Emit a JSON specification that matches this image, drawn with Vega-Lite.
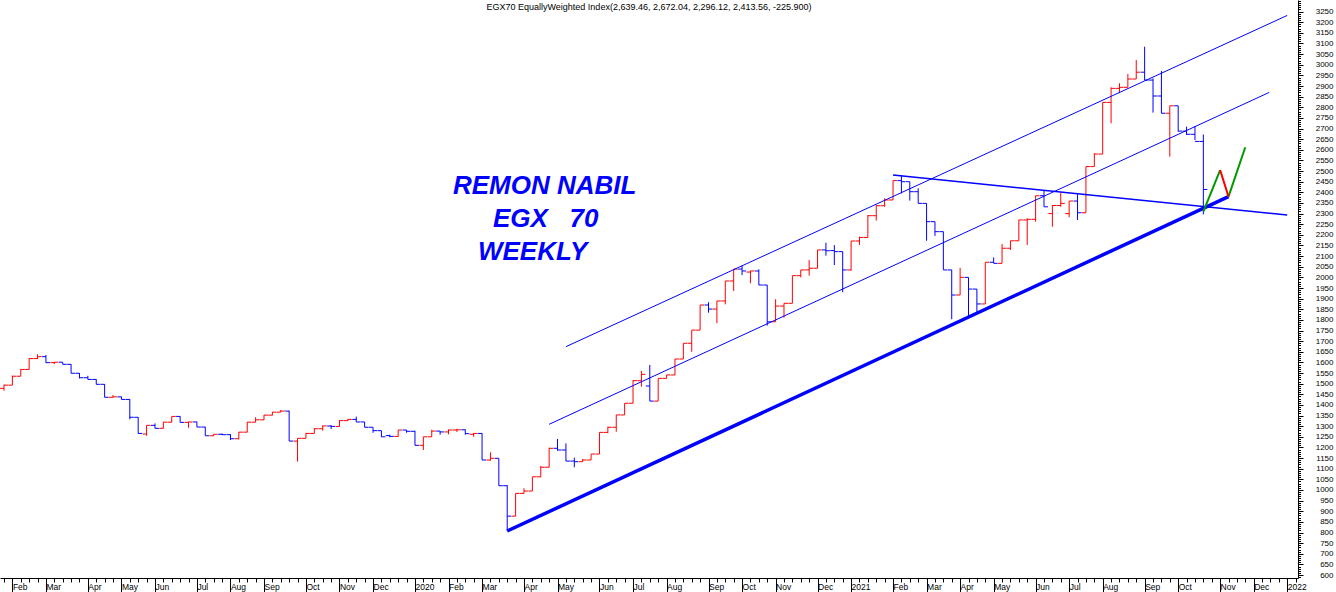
{
  "$schema": "https://vega.github.io/schema/vega-lite/v6.json",
  "width": 1298,
  "height": 578,
  "autosize": {"type": "none"},
  "padding": {"left": 0, "top": 0, "right": 38, "bottom": 14},
  "background": "white",
  "config": {"view": {"stroke": null}, "axis": {"grid": false}},
  "title": {
    "text": "EGX70 EquallyWeighted Index(2,639.46, 2,672.04, 2,296.12, 2,413.56, -225.900)",
    "anchor": "middle",
    "frame": "group",
    "offset": -12,
    "font": "Liberation Sans",
    "fontSize": 9,
    "fontWeight": "normal",
    "color": "black"
  },
  "datasets": {
    "bars": [
      {"d":"2019-01-27","o":1478,"h":1496,"l":1467,"c":1493,"s":"up"},
      {"d":"2019-02-03","o":1493,"h":1538,"l":1493,"c":1535,"s":"up"},
      {"d":"2019-02-10","o":1535,"h":1569,"l":1535,"c":1567,"s":"up"},
      {"d":"2019-02-17","o":1567,"h":1620,"l":1567,"c":1618,"s":"up"},
      {"d":"2019-02-24","o":1618,"h":1638,"l":1616,"c":1627,"s":"up"},
      {"d":"2019-03-03","o":1627,"h":1635,"l":1598,"c":1599,"s":"down"},
      {"d":"2019-03-10","o":1599,"h":1602,"l":1592,"c":1601,"s":"up"},
      {"d":"2019-03-17","o":1601,"h":1601,"l":1591,"c":1591,"s":"down"},
      {"d":"2019-03-24","o":1591,"h":1592,"l":1549,"c":1549,"s":"down"},
      {"d":"2019-03-31","o":1549,"h":1550,"l":1525,"c":1528,"s":"down"},
      {"d":"2019-04-07","o":1528,"h":1537,"l":1520,"c":1520,"s":"down"},
      {"d":"2019-04-14","o":1520,"h":1521,"l":1497,"c":1497,"s":"down"},
      {"d":"2019-04-21","o":1497,"h":1498,"l":1436,"c":1436,"s":"down"},
      {"d":"2019-04-28","o":1436,"h":1447,"l":1435,"c":1438,"s":"up"},
      {"d":"2019-05-05","o":1438,"h":1439,"l":1426,"c":1426,"s":"down"},
      {"d":"2019-05-12","o":1426,"h":1427,"l":1332,"c":1342,"s":"down"},
      {"d":"2019-05-19","o":1342,"h":1343,"l":1266,"c":1266,"s":"down"},
      {"d":"2019-05-26","o":1263,"h":1304,"l":1255,"c":1304,"s":"up"},
      {"d":"2019-06-02","o":1304,"h":1313,"l":1290,"c":1290,"s":"down"},
      {"d":"2019-06-09","o":1290,"h":1320,"l":1289,"c":1319,"s":"up"},
      {"d":"2019-06-16","o":1319,"h":1346,"l":1318,"c":1346,"s":"up"},
      {"d":"2019-06-23","o":1346,"h":1347,"l":1318,"c":1318,"s":"down"},
      {"d":"2019-06-30","o":1318,"h":1321,"l":1293,"c":1320,"s":"up"},
      {"d":"2019-07-07","o":1320,"h":1321,"l":1296,"c":1296,"s":"down"},
      {"d":"2019-07-14","o":1296,"h":1297,"l":1255,"c":1255,"s":"down"},
      {"d":"2019-07-21","o":1255,"h":1262,"l":1254,"c":1262,"s":"up"},
      {"d":"2019-07-28","o":1262,"h":1266,"l":1259,"c":1260,"s":"down"},
      {"d":"2019-08-04","o":1260,"h":1262,"l":1235,"c":1241,"s":"down"},
      {"d":"2019-08-11","o":1241,"h":1273,"l":1238,"c":1272,"s":"up"},
      {"d":"2019-08-18","o":1272,"h":1320,"l":1271,"c":1319,"s":"up"},
      {"d":"2019-08-25","o":1319,"h":1342,"l":1319,"c":1330,"s":"up"},
      {"d":"2019-09-01","o":1330,"h":1353,"l":1329,"c":1352,"s":"up"},
      {"d":"2019-09-08","o":1352,"h":1367,"l":1351,"c":1366,"s":"up"},
      {"d":"2019-09-15","o":1366,"h":1376,"l":1366,"c":1371,"s":"up"},
      {"d":"2019-09-22","o":1371,"h":1373,"l":1230,"c":1230,"s":"down"},
      {"d":"2019-09-29","o":1230,"h":1243,"l":1133,"c":1243,"s":"up"},
      {"d":"2019-10-06","o":1243,"h":1269,"l":1243,"c":1266,"s":"up"},
      {"d":"2019-10-13","o":1266,"h":1291,"l":1266,"c":1288,"s":"up"},
      {"d":"2019-10-20","o":1288,"h":1304,"l":1279,"c":1301,"s":"up"},
      {"d":"2019-10-27","o":1301,"h":1305,"l":1287,"c":1299,"s":"down"},
      {"d":"2019-11-03","o":1299,"h":1329,"l":1298,"c":1326,"s":"up"},
      {"d":"2019-11-10","o":1326,"h":1334,"l":1325,"c":1332,"s":"up"},
      {"d":"2019-11-17","o":1332,"h":1345,"l":1319,"c":1320,"s":"down"},
      {"d":"2019-11-24","o":1320,"h":1320,"l":1295,"c":1295,"s":"down"},
      {"d":"2019-12-01","o":1295,"h":1295,"l":1269,"c":1279,"s":"down"},
      {"d":"2019-12-08","o":1279,"h":1279,"l":1250,"c":1250,"s":"down"},
      {"d":"2019-12-15","o":1256,"h":1260,"l":1248,"c":1252,"s":"down"},
      {"d":"2019-12-22","o":1252,"h":1282,"l":1250,"c":1282,"s":"up"},
      {"d":"2019-12-29","o":1282,"h":1282,"l":1269,"c":1276,"s":"down"},
      {"d":"2020-01-05","o":1276,"h":1279,"l":1210,"c":1210,"s":"down"},
      {"d":"2020-01-12","o":1210,"h":1250,"l":1188,"c":1250,"s":"up"},
      {"d":"2020-01-19","o":1250,"h":1283,"l":1250,"c":1277,"s":"up"},
      {"d":"2020-01-26","o":1277,"h":1277,"l":1260,"c":1273,"s":"down"},
      {"d":"2020-02-02","o":1273,"h":1285,"l":1262,"c":1282,"s":"up"},
      {"d":"2020-02-09","o":1282,"h":1288,"l":1273,"c":1283,"s":"up"},
      {"d":"2020-02-16","o":1283,"h":1285,"l":1260,"c":1265,"s":"down"},
      {"d":"2020-02-23","o":1262,"h":1268,"l":1250,"c":1266,"s":"up"},
      {"d":"2020-03-01","o":1266,"h":1267,"l":1141,"c":1141,"s":"down"},
      {"d":"2020-03-08","o":1141,"h":1177,"l":1138,"c":1149,"s":"up"},
      {"d":"2020-03-15","o":1149,"h":1149,"l":1020,"c":1020,"s":"down"},
      {"d":"2020-03-22","o":1020,"h":1023,"l":807,"c":877,"s":"down"},
      {"d":"2020-03-29","o":877,"h":984,"l":877,"c":984,"s":"up"},
      {"d":"2020-04-05","o":984,"h":1008,"l":984,"c":995,"s":"up"},
      {"d":"2020-04-12","o":995,"h":1062,"l":995,"c":1062,"s":"up"},
      {"d":"2020-04-19","o":1062,"h":1113,"l":1060,"c":1107,"s":"up"},
      {"d":"2020-04-26","o":1107,"h":1199,"l":1107,"c":1196,"s":"up"},
      {"d":"2020-05-03","o":1196,"h":1240,"l":1185,"c":1188,"s":"down"},
      {"d":"2020-05-10","o":1188,"h":1219,"l":1136,"c":1136,"s":"down"},
      {"d":"2020-05-17","o":1136,"h":1152,"l":1107,"c":1133,"s":"down"},
      {"d":"2020-05-24","o":1133,"h":1146,"l":1133,"c":1141,"s":"up"},
      {"d":"2020-05-31","o":1141,"h":1169,"l":1141,"c":1169,"s":"up"},
      {"d":"2020-06-07","o":1169,"h":1271,"l":1169,"c":1271,"s":"up"},
      {"d":"2020-06-14","o":1271,"h":1298,"l":1267,"c":1295,"s":"up"},
      {"d":"2020-06-21","o":1295,"h":1353,"l":1274,"c":1353,"s":"up"},
      {"d":"2020-06-28","o":1353,"h":1408,"l":1353,"c":1408,"s":"up"},
      {"d":"2020-07-05","o":1408,"h":1517,"l":1408,"c":1514,"s":"up"},
      {"d":"2020-07-12","o":1514,"h":1560,"l":1486,"c":1544,"s":"up"},
      {"d":"2020-07-19","o":1489,"h":1588,"l":1418,"c":1418,"s":"down"},
      {"d":"2020-07-26","o":1418,"h":1525,"l":1418,"c":1525,"s":"up"},
      {"d":"2020-08-02","o":1525,"h":1541,"l":1525,"c":1541,"s":"up"},
      {"d":"2020-08-09","o":1541,"h":1616,"l":1541,"c":1616,"s":"up"},
      {"d":"2020-08-16","o":1616,"h":1690,"l":1616,"c":1690,"s":"up"},
      {"d":"2020-08-23","o":1690,"h":1752,"l":1650,"c":1752,"s":"up"},
      {"d":"2020-08-30","o":1752,"h":1870,"l":1752,"c":1870,"s":"up"},
      {"d":"2020-09-06","o":1870,"h":1883,"l":1834,"c":1851,"s":"down"},
      {"d":"2020-09-13","o":1851,"h":1889,"l":1784,"c":1889,"s":"up"},
      {"d":"2020-09-20","o":1889,"h":1983,"l":1873,"c":1983,"s":"up"},
      {"d":"2020-09-27","o":1983,"h":2039,"l":1936,"c":2039,"s":"up"},
      {"d":"2020-10-04","o":2039,"h":2055,"l":2011,"c":2030,"s":"down"},
      {"d":"2020-10-11","o":2025,"h":2031,"l":1972,"c":2030,"s":"up"},
      {"d":"2020-10-18","o":2030,"h":2038,"l":1964,"c":1964,"s":"down"},
      {"d":"2020-10-25","o":1964,"h":1964,"l":1773,"c":1791,"s":"down"},
      {"d":"2020-11-01","o":1791,"h":1897,"l":1791,"c":1865,"s":"up"},
      {"d":"2020-11-08","o":1865,"h":1878,"l":1810,"c":1878,"s":"up"},
      {"d":"2020-11-15","o":1878,"h":2008,"l":1878,"c":2008,"s":"up"},
      {"d":"2020-11-22","o":2008,"h":2035,"l":2000,"c":2035,"s":"up"},
      {"d":"2020-11-29","o":2035,"h":2082,"l":2008,"c":2043,"s":"up"},
      {"d":"2020-12-06","o":2043,"h":2129,"l":2043,"c":2129,"s":"up"},
      {"d":"2020-12-13","o":2129,"h":2163,"l":2102,"c":2125,"s":"down"},
      {"d":"2020-12-20","o":2126,"h":2152,"l":2058,"c":2121,"s":"down"},
      {"d":"2020-12-27","o":2121,"h":2121,"l":1930,"c":2035,"s":"down"},
      {"d":"2021-01-03","o":2035,"h":2171,"l":2031,"c":2171,"s":"up"},
      {"d":"2021-01-10","o":2171,"h":2191,"l":2152,"c":2188,"s":"up"},
      {"d":"2021-01-17","o":2188,"h":2293,"l":2188,"c":2290,"s":"up"},
      {"d":"2021-01-24","o":2290,"h":2340,"l":2267,"c":2337,"s":"up"},
      {"d":"2021-01-31","o":2337,"h":2372,"l":2332,"c":2364,"s":"up"},
      {"d":"2021-02-07","o":2364,"h":2455,"l":2364,"c":2455,"s":"up"},
      {"d":"2021-02-14","o":2455,"h":2481,"l":2395,"c":2450,"s":"down"},
      {"d":"2021-02-21","o":2450,"h":2450,"l":2361,"c":2403,"s":"down"},
      {"d":"2021-02-28","o":2403,"h":2419,"l":2348,"c":2348,"s":"down"},
      {"d":"2021-03-07","o":2348,"h":2348,"l":2172,"c":2262,"s":"down"},
      {"d":"2021-03-14","o":2262,"h":2262,"l":2195,"c":2215,"s":"down"},
      {"d":"2021-03-21","o":2215,"h":2215,"l":2035,"c":2035,"s":"down"},
      {"d":"2021-03-28","o":2035,"h":2035,"l":1803,"c":1917,"s":"down"},
      {"d":"2021-04-04","o":1917,"h":2045,"l":1917,"c":2000,"s":"up"},
      {"d":"2021-04-11","o":2000,"h":2000,"l":1818,"c":1945,"s":"down"},
      {"d":"2021-04-18","o":1945,"h":1945,"l":1828,"c":1875,"s":"down"},
      {"d":"2021-04-25","o":1875,"h":2071,"l":1875,"c":2071,"s":"up"},
      {"d":"2021-05-02","o":2071,"h":2094,"l":2066,"c":2066,"s":"down"},
      {"d":"2021-05-09","o":2066,"h":2157,"l":2066,"c":2137,"s":"up"},
      {"d":"2021-05-16","o":2137,"h":2172,"l":2129,"c":2172,"s":"up"},
      {"d":"2021-05-23","o":2172,"h":2270,"l":2172,"c":2270,"s":"up"},
      {"d":"2021-05-30","o":2270,"h":2278,"l":2152,"c":2273,"s":"up"},
      {"d":"2021-06-06","o":2273,"h":2384,"l":2262,"c":2384,"s":"up"},
      {"d":"2021-06-13","o":2384,"h":2411,"l":2332,"c":2332,"s":"down"},
      {"d":"2021-06-20","o":2300,"h":2340,"l":2238,"c":2338,"s":"up"},
      {"d":"2021-06-27","o":2338,"h":2398,"l":2332,"c":2348,"s":"up"},
      {"d":"2021-07-04","o":2300,"h":2359,"l":2283,"c":2359,"s":"up"},
      {"d":"2021-07-11","o":2359,"h":2391,"l":2270,"c":2304,"s":"down"},
      {"d":"2021-07-18","o":2304,"h":2521,"l":2304,"c":2521,"s":"up"},
      {"d":"2021-07-25","o":2521,"h":2584,"l":2521,"c":2580,"s":"up"},
      {"d":"2021-08-01","o":2580,"h":2823,"l":2580,"c":2823,"s":"up"},
      {"d":"2021-08-08","o":2823,"h":2894,"l":2725,"c":2889,"s":"up"},
      {"d":"2021-08-15","o":2889,"h":2913,"l":2866,"c":2894,"s":"up"},
      {"d":"2021-08-22","o":2894,"h":2957,"l":2894,"c":2933,"s":"up"},
      {"d":"2021-08-29","o":2933,"h":3022,"l":2933,"c":2965,"s":"up"},
      {"d":"2021-09-05","o":2965,"h":3085,"l":2928,"c":2928,"s":"down"},
      {"d":"2021-09-12","o":2928,"h":2936,"l":2775,"c":2853,"s":"down"},
      {"d":"2021-09-19","o":2853,"h":2971,"l":2772,"c":2772,"s":"down"},
      {"d":"2021-09-26","o":2772,"h":2807,"l":2568,"c":2807,"s":"up"},
      {"d":"2021-10-03","o":2807,"h":2807,"l":2685,"c":2688,"s":"down"},
      {"d":"2021-10-10","o":2688,"h":2709,"l":2670,"c":2673,"s":"down"},
      {"d":"2021-10-17","o":2673,"h":2712,"l":2646,"c":2639.46,"s":"down"},
      {"d":"2021-10-24","o":2639.46,"h":2672.04,"l":2296.12,"c":2413.56,"s":"down"}
    ],
    "lines": [
      {"id":"support","d":"2020-03-22","v":807},
      {"id":"support","d":"2021-11-14","v":2380},
      {"id":"upper","d":"2020-05-10","v":1674},
      {"id":"upper","d":"2022-01-02","v":3232},
      {"id":"middle","d":"2020-04-26","v":1309},
      {"id":"middle","d":"2021-12-18","v":2870},
      {"id":"desc","d":"2021-02-07","v":2481},
      {"id":"desc","d":"2022-01-02","v":2293}
    ],
    "zig": [
      {"k":"rise","d":"2021-10-24","v":2309,"d2":"2021-11-07","v2":2505},
      {"k":"fall","d":"2021-11-07","v":2505,"d2":"2021-11-14","v2":2380},
      {"k":"rise","d":"2021-11-14","v":2380,"d2":"2021-11-28","v2":2612}
    ],
    "labels": [
      {"t":"REMON NABIL","d":"2020-02-05T17:00:00Z","v":2392},
      {"t":"EGX\u00a0\u00a0 70","d":"2020-03-10T02:00:00Z","v":2237},
      {"t":"WEEKLY","d":"2020-02-26T14:00:00Z","v":2082}
    ]
  },
  "layer": [
    {
      "data": {"name": "bars"},
      "mark": {"type": "rule", "strokeWidth": 1},
      "encoding": {
        "x": {"field": "d", "type": "temporal",
          "scale": {"type": "utc", "nice": false, "domain": [{"year":2019,"month":1,"date":23,"hours":16,"utc":true},{"year":2022,"month":1,"date":11,"utc":true}]},
          "axis": {
            "orient": "bottom", "title": null, "grid": false,
            "values": [
              {"year":2019,"month":2,"date":3,"utc":true},{"year":2019,"month":3,"date":3,"utc":true},{"year":2019,"month":4,"date":7,"utc":true},{"year":2019,"month":5,"date":5,"utc":true},{"year":2019,"month":6,"date":2,"utc":true},{"year":2019,"month":7,"date":7,"utc":true},{"year":2019,"month":8,"date":4,"utc":true},{"year":2019,"month":9,"date":1,"utc":true},{"year":2019,"month":10,"date":6,"utc":true},{"year":2019,"month":11,"date":3,"utc":true},{"year":2019,"month":12,"date":1,"utc":true},
              {"year":2020,"month":1,"date":5,"utc":true},{"year":2020,"month":2,"date":2,"utc":true},{"year":2020,"month":3,"date":1,"utc":true},{"year":2020,"month":4,"date":5,"utc":true},{"year":2020,"month":5,"date":3,"utc":true},{"year":2020,"month":6,"date":7,"utc":true},{"year":2020,"month":7,"date":5,"utc":true},{"year":2020,"month":8,"date":2,"utc":true},{"year":2020,"month":9,"date":6,"utc":true},{"year":2020,"month":10,"date":4,"utc":true},{"year":2020,"month":11,"date":1,"utc":true},{"year":2020,"month":12,"date":6,"utc":true},
              {"year":2021,"month":1,"date":3,"utc":true},{"year":2021,"month":2,"date":7,"utc":true},{"year":2021,"month":3,"date":7,"utc":true},{"year":2021,"month":4,"date":4,"utc":true},{"year":2021,"month":5,"date":2,"utc":true},{"year":2021,"month":6,"date":6,"utc":true},{"year":2021,"month":7,"date":4,"utc":true},{"year":2021,"month":8,"date":1,"utc":true},{"year":2021,"month":9,"date":5,"utc":true},{"year":2021,"month":10,"date":3,"utc":true},{"year":2021,"month":11,"date":7,"utc":true},{"year":2021,"month":12,"date":5,"utc":true},
              {"year":2022,"month":1,"date":2,"utc":true}
            ],
            "labelExpr": "utcFormat(datum.value, '%m') == '01' ? utcFormat(datum.value, '%Y') : utcFormat(datum.value, '%b')",
            "tickSize": 14, "tickColor": "black", "tickWidth": 1,
            "domainColor": "black", "domainWidth": 1,
            "labelAlign": "left", "labelBaseline": "top", "labelPadding": -10, "labelDx": 2,
            "labelFont": "Liberation Sans", "labelFontSize": 8.5, "labelColor": "black",
            "labelOverlap": false, "labelFlush": false, "labelBound": false
          }
        },
        "y": {"field": "l", "type": "quantitative",
          "scale": {"domain": [586, 3304.6], "nice": false, "zero": false},
          "axis": {
            "orient": "right", "title": null, "grid": false, "format": "d",
            "values": [600,650,700,750,800,850,900,950,1000,1050,1100,1150,1200,1250,1300,1350,1400,1450,1500,1550,1600,1650,1700,1750,1800,1850,1900,1950,2000,2050,2100,2150,2200,2250,2300,2350,2400,2450,2500,2550,2600,2650,2700,2750,2800,2850,2900,2950,3000,3050,3100,3150,3200,3250],
            "tickSize": 5, "tickColor": "black", "domainColor": "black",
            "labelAlign": "right", "labelPadding": 30,
            "labelFont": "Liberation Sans", "labelFontSize": 8, "labelColor": "black",
            "labelOverlap": false, "labelFlush": false, "labelBound": false
          }
        },
        "y2": {"field": "h"},
        "color": {"field": "s", "type": "nominal", "scale": {"domain": ["up", "down"], "range": ["#ff0000", "#0000ff"]}, "legend": null}
      }
    },
    {
      "data": {"name": "bars"},
      "mark": {"type": "rule", "strokeWidth": 1, "xOffset": -4, "x2Offset": 0},
      "encoding": {
        "x": {"field": "d", "type": "temporal",
          "scale": {"type": "utc", "nice": false, "domain": [{"year":2019,"month":1,"date":23,"hours":16,"utc":true},{"year":2022,"month":1,"date":11,"utc":true}]},
          "axis": {"orient": "bottom", "title": null, "grid": false, "labels": false, "domain": false, "tickCount": {"interval": "week", "step": 1}, "tickSize": 4, "tickColor": "black"}
        },
        "x2": {"field": "d"},
        "y": {"field": "o", "type": "quantitative",
          "scale": {"domain": [586, 3304.6], "nice": false, "zero": false},
          "axis": {"orient": "right", "title": null, "grid": false, "labels": false, "domain": false, "tickCount": 272, "tickSize": 2.5, "tickColor": "black"}
        },
        "color": {"field": "s", "type": "nominal", "scale": {"domain": ["up", "down"], "range": ["#ff0000", "#0000ff"]}, "legend": null}
      }
    },
    {
      "data": {"name": "bars"},
      "mark": {"type": "rule", "strokeWidth": 1, "xOffset": 0, "x2Offset": 4},
      "encoding": {
        "x": {"field": "d", "type": "temporal", "axis": null,
          "scale": {"type": "utc", "nice": false, "domain": [{"year":2019,"month":1,"date":23,"hours":16,"utc":true},{"year":2022,"month":1,"date":11,"utc":true}]}},
        "x2": {"field": "d"},
        "y": {"field": "c", "type": "quantitative", "axis": null,
          "scale": {"domain": [586, 3304.6], "nice": false, "zero": false}},
        "color": {"field": "s", "type": "nominal", "scale": {"domain": ["up", "down"], "range": ["#ff0000", "#0000ff"]}, "legend": null}
      }
    },
    {
      "data": {"name": "lines"},
      "transform": [{"filter": "datum.id == 'upper' || datum.id == 'middle'"}],
      "mark": {"type": "line", "strokeWidth": 1, "color": "#0000ff"},
      "encoding": {
        "x": {"field": "d", "type": "temporal", "axis": null,
          "scale": {"type": "utc", "nice": false, "domain": [{"year":2019,"month":1,"date":23,"hours":16,"utc":true},{"year":2022,"month":1,"date":11,"utc":true}]}},
        "y": {"field": "v", "type": "quantitative", "axis": null,
          "scale": {"domain": [586, 3304.6], "nice": false, "zero": false}},
        "detail": {"field": "id"}
      }
    },
    {
      "data": {"name": "lines"},
      "transform": [{"filter": "datum.id == 'desc'"}],
      "mark": {"type": "line", "strokeWidth": 1.5, "color": "#0000ff"},
      "encoding": {
        "x": {"field": "d", "type": "temporal", "axis": null,
          "scale": {"type": "utc", "nice": false, "domain": [{"year":2019,"month":1,"date":23,"hours":16,"utc":true},{"year":2022,"month":1,"date":11,"utc":true}]}},
        "y": {"field": "v", "type": "quantitative", "axis": null,
          "scale": {"domain": [586, 3304.6], "nice": false, "zero": false}}
      }
    },
    {
      "data": {"name": "lines"},
      "transform": [{"filter": "datum.id == 'support'"}],
      "mark": {"type": "line", "strokeWidth": 3.5, "color": "#0000ff"},
      "encoding": {
        "x": {"field": "d", "type": "temporal", "axis": null,
          "scale": {"type": "utc", "nice": false, "domain": [{"year":2019,"month":1,"date":23,"hours":16,"utc":true},{"year":2022,"month":1,"date":11,"utc":true}]}},
        "y": {"field": "v", "type": "quantitative", "axis": null,
          "scale": {"domain": [586, 3304.6], "nice": false, "zero": false}}
      }
    },
    {
      "data": {"name": "zig"},
      "transform": [{"filter": "datum.k == 'rise'"}],
      "mark": {"type": "rule", "strokeWidth": 2, "color": "#009900"},
      "encoding": {
        "x": {"field": "d", "type": "temporal", "axis": null,
          "scale": {"type": "utc", "nice": false, "domain": [{"year":2019,"month":1,"date":23,"hours":16,"utc":true},{"year":2022,"month":1,"date":11,"utc":true}]}},
        "x2": {"field": "d2"},
        "y": {"field": "v", "type": "quantitative", "axis": null,
          "scale": {"domain": [586, 3304.6], "nice": false, "zero": false}},
        "y2": {"field": "v2"}
      }
    },
    {
      "data": {"name": "zig"},
      "transform": [{"filter": "datum.k == 'fall'"}],
      "mark": {"type": "rule", "strokeWidth": 2, "color": "#ff0000"},
      "encoding": {
        "x": {"field": "d", "type": "temporal", "axis": null,
          "scale": {"type": "utc", "nice": false, "domain": [{"year":2019,"month":1,"date":23,"hours":16,"utc":true},{"year":2022,"month":1,"date":11,"utc":true}]}},
        "x2": {"field": "d2"},
        "y": {"field": "v", "type": "quantitative", "axis": null,
          "scale": {"domain": [586, 3304.6], "nice": false, "zero": false}},
        "y2": {"field": "v2"}
      }
    },
    {
      "data": {"name": "labels"},
      "mark": {"type": "text", "align": "left", "baseline": "alphabetic", "font": "Liberation Sans", "fontSize": 26, "fontWeight": "bold", "fontStyle": "italic", "color": "#0000ff"},
      "encoding": {
        "x": {"field": "d", "type": "temporal", "axis": null,
          "scale": {"type": "utc", "nice": false, "domain": [{"year":2019,"month":1,"date":23,"hours":16,"utc":true},{"year":2022,"month":1,"date":11,"utc":true}]}},
        "y": {"field": "v", "type": "quantitative", "axis": null,
          "scale": {"domain": [586, 3304.6], "nice": false, "zero": false}},
        "text": {"field": "t"}
      }
    }
  ],
  "resolve": {"axis": {"x": "independent", "y": "independent"}}
}
